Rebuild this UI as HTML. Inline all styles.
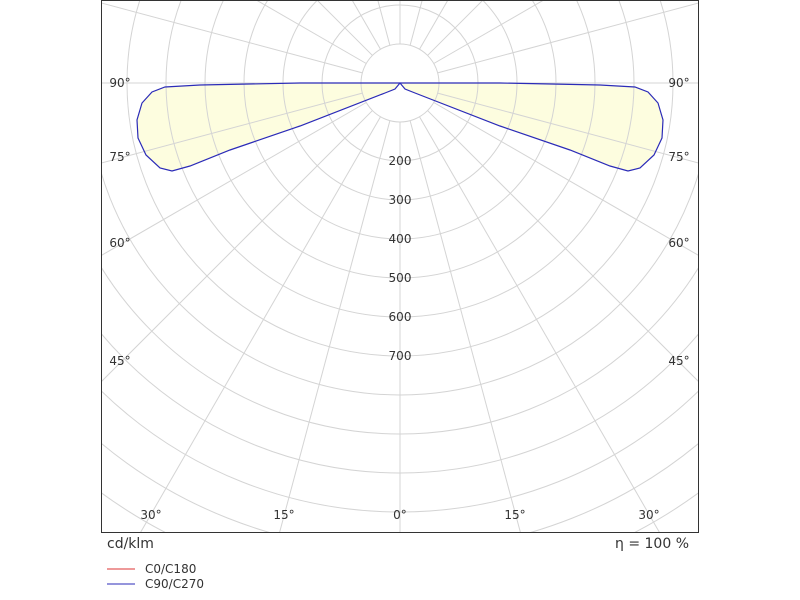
<!DOCTYPE html>
<html><head><meta charset="utf-8"><style>
html,body{margin:0;padding:0;background:#fff;width:800px;height:600px;overflow:hidden;}
svg{display:block;font-family:"DejaVu Sans","Liberation Sans",sans-serif;overflow:hidden;}
</style></head><body>
<svg width="800" height="600" viewBox="0 0 800 600">
<defs><clipPath id="c"><rect x="101" y="1" width="597" height="531"/></clipPath></defs>
<g clip-path="url(#c)">
<path d="M400,83 L395,89 L385,93 L300,126 L230,150 L190,166 L172,171 L160,168 L146,155 L138,138 L137,120 L142,103 L152,92 L165,87 L200,85 L300,83 L400,83 L500,83 L600,85 L635,87 L648,92 L658,103 L663,120 L662,138 L654,155 L640,168 L628,171 L610,166 L570,150 L500,126 L415,93 L405,89 Z" fill="#fdfddf" stroke="none"/>
<g fill="none" stroke="#d4d4d4" stroke-width="1">
<circle cx="400" cy="83" r="39"/><circle cx="400" cy="83" r="78"/><circle cx="400" cy="83" r="117"/><circle cx="400" cy="83" r="156"/><circle cx="400" cy="83" r="195"/><circle cx="400" cy="83" r="234"/><circle cx="400" cy="83" r="273"/><circle cx="400" cy="83" r="312"/><circle cx="400" cy="83" r="351"/><circle cx="400" cy="83" r="390"/><circle cx="400" cy="83" r="429"/><circle cx="400" cy="83" r="468"/><circle cx="400" cy="83" r="507"/>
<g id="sp">
<line x1="400" y1="122" x2="400" y2="620"/>
<line x1="400" y1="122" x2="400" y2="620" transform="rotate(15 400 83)"/>
<line x1="400" y1="122" x2="400" y2="620" transform="rotate(30 400 83)"/>
<line x1="400" y1="122" x2="400" y2="620" transform="rotate(45 400 83)"/>
<line x1="400" y1="122" x2="400" y2="620" transform="rotate(60 400 83)"/>
<line x1="400" y1="122" x2="400" y2="620" transform="rotate(75 400 83)"/>
<line x1="400" y1="122" x2="400" y2="620" transform="rotate(90 400 83)"/>
<line x1="400" y1="122" x2="400" y2="620" transform="rotate(105 400 83)"/>
<line x1="400" y1="122" x2="400" y2="620" transform="rotate(120 400 83)"/>
<line x1="400" y1="122" x2="400" y2="620" transform="rotate(135 400 83)"/>
<line x1="400" y1="122" x2="400" y2="620" transform="rotate(150 400 83)"/>
<line x1="400" y1="122" x2="400" y2="620" transform="rotate(165 400 83)"/>
</g>
<use href="#sp" transform="rotate(180 400 83)"/>
</g>
<path d="M400,83 L395,89 L385,93 L300,126 L230,150 L190,166 L172,171 L160,168 L146,155 L138,138 L137,120 L142,103 L152,92 L165,87 L200,85 L300,83 L400,83 L500,83 L600,85 L635,87 L648,92 L658,103 L663,120 L662,138 L654,155 L640,168 L628,171 L610,166 L570,150 L500,126 L415,93 L405,89 Z" fill="none" stroke="#2b2bb8" stroke-width="1.2"/>
</g>
<rect x="101.5" y="0.5" width="597" height="532" fill="none" stroke="#333" stroke-width="1"/>
<g font-size="12" fill="#333" text-anchor="middle">
<text x="400" y="165">200</text><text x="400" y="204">300</text><text x="400" y="243">400</text><text x="400" y="282">500</text><text x="400" y="321">600</text><text x="400" y="360">700</text>
<text x="120" y="87">90°</text><text x="679" y="87">90°</text>
<text x="120" y="161">75°</text><text x="679" y="161">75°</text>
<text x="120" y="247">60°</text><text x="679" y="247">60°</text>
<text x="120" y="365">45°</text><text x="679" y="365">45°</text>
<text x="151" y="519">30°</text><text x="284" y="519">15°</text><text x="400" y="519">0°</text><text x="515" y="519">15°</text><text x="649" y="519">30°</text>
</g>
<text x="107" y="548" font-size="14" fill="#333">cd/klm</text>
<text x="689" y="548" font-size="14" fill="#333" text-anchor="end">η = 100 %</text>
<line x1="107" y1="569" x2="135" y2="569" stroke="#d33" stroke-width="1"/>
<line x1="107" y1="584" x2="135" y2="584" stroke="#2b2bb8" stroke-width="1"/>
<text x="145" y="573" font-size="12" fill="#333">C0/C180</text>
<text x="145" y="588" font-size="12" fill="#333">C90/C270</text>
</svg>
</body></html>
